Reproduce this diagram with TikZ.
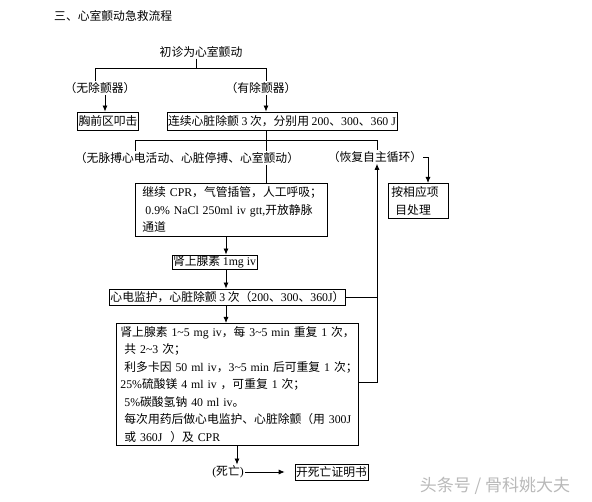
\documentclass[tikz,border=0pt]{standalone}
\usepackage{fontspec}
\setmainfont{Noto Sans CJK SC}
\newfontfamily\tm{Liberation Serif}
\newcommand\lat[1]{{\tm #1}}
\newcommand\tild{\textasciitilde}
\usetikzlibrary{arrows.meta}
\hbadness=10000 \hfuzz=50pt
\begin{document}
\begin{tikzpicture}[x=1pt,y=-1pt,
  every node/.style={font=\fontsize{11.8}{17.5}\selectfont, inner sep=1pt},
  box/.style={draw, line width=0.8pt},
  link/.style={line width=0.8pt},
  arr/.style={link,-{Latex[length=6pt,width=5pt]}}]
\useasboundingbox (0,0) rectangle (592,502);
% nodes
\node[anchor=west] (title) at (53,16) {三、心室颤动急救流程};
\node (start) at (201,52) {初诊为心室颤动};
\node (noD) at (100,88) {（无除颤器）};
\node (hasD) at (261,88) {（有除颤器）};
\node[box, minimum height=18pt] (thump) at (108,121) {胸前区叩击};
\node[box, minimum height=18pt] (shock3) at (282,121) {连续心脏除颤 \lat{3} 次，分别用 \lat{200}、\lat{300}、\lat{360 J}};
\node (nopulse) at (187,158) {（无脉搏心电活动、心脏停搏、心室颤动）};
\node (rosc) at (375,157) {（恢复自主循环）};
\node[box, anchor=north west, text width=178pt, inner xsep=7pt, inner ysep=2pt, align=left, minimum height=53pt] (cpr) at (135,183)
  {\mbox{继续 \lat{CPR}，气管插管，人工呼吸；}\\\mbox{\hspace*{3pt}\lat{0.9\% NaCl 250ml iv gtt,}开放静脉}\\通道};
\node[box, anchor=north west, text width=54pt, inner xsep=3pt, inner ysep=1pt, align=left, minimum height=35pt] (other) at (388,183)
  {按相应项\\\hspace*{4pt}目处理};
\node[box, minimum height=14pt, inner ysep=0.5pt] (epi) at (214.5,262) {肾上腺素 \lat{1mg iv}};
\node[box, minimum height=16pt] (monitor) at (227.5,297) {心电监护，心脏除颤 \lat{3} 次（\lat{200}、\lat{300}、\lat{360J}）};
\node[box, anchor=north west, text width=234pt, inner xsep=4pt, inner ysep=2pt, align=left, minimum height=122pt] (drugs) at (116,323)
  {\mbox{肾上腺素 \lat{1\tild5 mg iv}，每 \lat{3\tild5 min}\ 重复 \lat{1} 次，}\\
   \mbox{\hspace*{4pt}共 \lat{2\tild3} 次；}\\
   \mbox{\hspace*{4pt}利多卡因 \lat{50 ml iv}，\lat{3\tild5 min} 后可重复 \lat{1} 次；}\\
   \mbox{\lat{25\%}硫酸镁 \lat{4 ml iv}\ ，可重复 \lat{1} 次；}\\
   \mbox{\hspace*{4pt}\lat{5\%}碳酸氢钠 \lat{40 ml iv}。}\\
   \mbox{\hspace*{4pt}每次用药后做心电监护、心脏除颤（用 \lat{300J}}\\
   \mbox{\hspace*{4pt}或 \lat{360J}\ \ ）及 \lat{CPR}}};
\node (death) at (228,472) {\lat{(}死亡\lat{)}};
\node[box, minimum height=16pt, inner ysep=0.5pt] (cert) at (331.5,472) {开死亡证明书};
\node[text=gray!55, font=\fontsize{17}{20}\selectfont] (wm) at (495,486) {头条号 / 骨科姚大夫};
% coordinates
\coordinate (j1) at (196,68);
\coordinate (xL) at (95,68);
\coordinate (xR) at (266,68);
\coordinate (xa) at (105,0);
\coordinate (xb) at (266,0);
\coordinate (s) at (266,140);
\coordinate (sl) at (135,140);
\coordinate (sr) at (377,140);
\coordinate (xc) at (226,0);
\coordinate (xd) at (237,0);
\coordinate (xe) at (377,0);
\coordinate (lb) at (377,382);
\coordinate (xf) at (428,0);
% connectors
\draw[link] (j1 |- start.south) -- (j1);
\draw[link] (xL |- noD.north) -- (xL) -- (xR) -- (xR |- hasD.north);
\draw[arr] (xa |- noD.south) -- (xa |- thump.north);
\draw[arr] (xb |- hasD.south) -- (xb |- shock3.north);
\draw[link] (s |- shock3.south) -- (s |- nopulse.north);
\draw[link] (sl |- nopulse.north) -- (sl) -- (sr) -- (sr |- rosc.north);
\draw[link] (s |- nopulse.south) -- (s |- cpr.north);
\draw[arr] (xc |- cpr.south) -- (xc |- epi.north);
\draw[arr] (xc |- epi.south) -- (xc |- monitor.north);
\draw[arr] (xc |- monitor.south) -- (xc |- drugs.north);
\draw[arr] (xd |- drugs.south) -- (xd |- death.north);
\draw[arr, shorten >=10pt] (death.east) -- (cert.west);
\draw[link] (monitor.east) -- (monitor.east -| xe);
\draw[arr] (drugs.east |- lb) -- (lb) -- (xe |- rosc.south);
\draw[arr] (rosc.east) -- (rosc.east -| xf) -- (xf |- other.north);
\end{tikzpicture}
\end{document}
